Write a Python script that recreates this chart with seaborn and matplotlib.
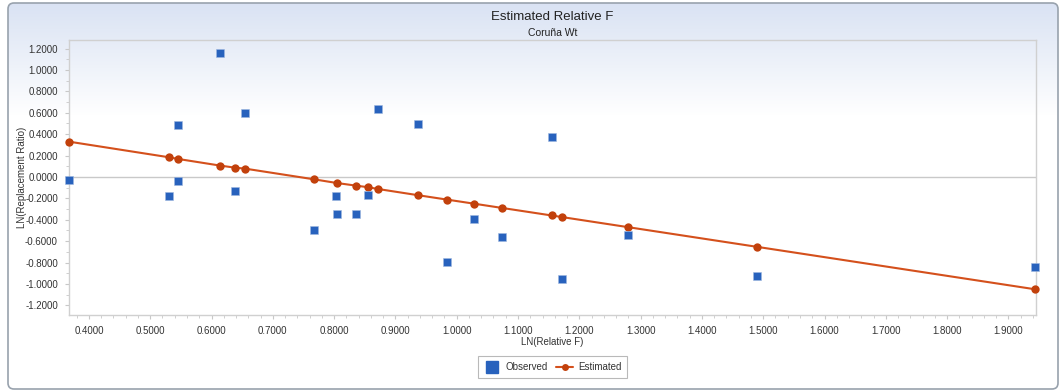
import numpy as np
import pandas as pd
import matplotlib
matplotlib.use("Agg")
import matplotlib.pyplot as plt
from matplotlib.lines import Line2D
from matplotlib.patches import FancyBboxPatch
from matplotlib.ticker import MultipleLocator, FormatStrFormatter
import seaborn as sns

# observed points (LN relative F, LN replacement ratio)
obs_x = [0.3675, 0.5307, 0.5458, 0.5458, 0.6144, 0.6383, 0.6546, 0.7672, 0.8031, 0.8047, 0.8357,
         0.8558, 0.8711, 0.9364, 0.9847, 1.0287, 1.0734, 1.1550, 1.1720, 1.2795, 1.4899, 1.9440]
obs_y = [-0.031, -0.175, 0.486, -0.037, 1.162, -0.128, 0.595, -0.495, -0.178, -0.349, -0.343,
         -0.165, 0.633, 0.492, -0.791, -0.393, -0.561, 0.377, -0.950, -0.545, -0.925, -0.844]
# estimated line points
est_x = [0.3675, 0.5307, 0.5458, 0.6144, 0.6383, 0.6546, 0.7672, 0.8039, 0.8357, 0.8558,
         0.8711, 0.9364, 0.9847, 1.0287, 1.0734, 1.1550, 1.1720, 1.2795, 1.4899, 1.9440]
est_y = [0.330, 0.184, 0.168, 0.106, 0.087, 0.078, -0.022, -0.056, -0.081, -0.096,
         -0.112, -0.170, -0.212, -0.250, -0.289, -0.360, -0.375, -0.469, -0.653, -1.050]

obs_df = pd.DataFrame({'x': obs_x, 'y': obs_y})
est_df = pd.DataFrame({'x': est_x, 'y': est_y})

sns.set_style("white")
plt.rcParams['font.family'] = ['Liberation Sans', 'DejaVu Sans']

W, H = 1062, 391
fig = plt.figure(figsize=(W / 100, H / 100), dpi=100)
fig.patch.set_facecolor('white')

# background panel with blue-to-white gradient
bg = fig.add_axes([0, 0, 1, 1], zorder=-5)
bg.set_xlim(0, W)
bg.set_ylim(H, 0)
bg.axis('off')
rows = np.arange(H)
t = np.clip((rows - 5) / 110.0, 0, 1)[:, None]
top = np.array([0.855, 0.890, 0.955])
grad = top * (1 - t) + np.array([1.0, 1.0, 1.0]) * t
img = np.repeat(grad[:, None, :], 2, axis=1)
panel = FancyBboxPatch((8, 3), W - 12, H - 5, boxstyle="round,pad=0,rounding_size=6",
                       facecolor='none', edgecolor='#98a2ad', linewidth=1.2, zorder=3)
bg.add_patch(panel)
im = bg.imshow(img, extent=(0, W, H, 0), aspect='auto', zorder=1)
im.set_clip_path(panel)

ax = fig.add_axes([69 / W, 1 - 315 / H, (1036 - 69) / W, (315 - 40) / H])
ax.set_facecolor('none')

ax.axhline(0, color='#c9c9c9', linewidth=1.0, zorder=1)

sns.lineplot(data=est_df, x='x', y='y', estimator=None, sort=False, color='#d4501c',
             linewidth=1.5, marker='o', markersize=6, markeredgewidth=0,
             markerfacecolor='#c2410c', ax=ax, zorder=3, clip_on=False)
sns.scatterplot(data=obs_df, x='x', y='y', marker='s', s=38, color='#2862bd',
                linewidth=0.4, edgecolor='#9fb8e0', ax=ax, zorder=4, clip_on=False)

ax.set_xlim(0.3675, 1.945)
ax.set_ylim(-1.29, 1.28)
ax.xaxis.set_major_locator(MultipleLocator(0.1))
ax.xaxis.set_minor_locator(MultipleLocator(0.02))
ax.yaxis.set_major_locator(MultipleLocator(0.2))
ax.yaxis.set_minor_locator(MultipleLocator(0.1))
ax.xaxis.set_major_formatter(FormatStrFormatter('%.4f'))
ax.yaxis.set_major_formatter(FormatStrFormatter('%.4f'))
ax.set_xticks([v / 10 for v in range(4, 20)])
ax.set_yticks([v / 10 for v in range(-12, 13, 2)])
ax.tick_params(axis='both', which='both', direction='out', color='#c8c8c8',
               labelsize=7, labelcolor='#333333', bottom=True, left=True)
ax.tick_params(axis='both', which='major', length=3, width=0.8, pad=5)
ax.tick_params(axis='both', which='minor', length=2, width=0.6)
for s in ax.spines.values():
    s.set_color('#d0d0d0')
    s.set_linewidth(1.0)

ax.set_xlabel('LN(Relative F)', fontsize=7, color='#333333')
ax.set_ylabel('LN(Replacement Ratio)', fontsize=7, color='#333333')
ax.xaxis.label.set_va('center')
ax.xaxis.set_label_coords(0.5, -0.098)
ax.yaxis.label.set_va('center')
ax.yaxis.set_label_coords(-0.049, 0.5)

fig.text(552.5 / W, 1 - 17 / H, 'Estimated Relative F', ha='center', va='center',
         fontsize=9.5, color='#222222')
fig.text(552.5 / W, 1 - 33 / H, 'Coruña Wt', ha='center', va='center',
         fontsize=7.5, color='#222222')

handles = [Line2D([], [], linestyle='none', marker='s', markersize=8.5, color='#2862bd'),
           Line2D([], [], color='#d4501c', linewidth=1.5, marker='o', markersize=5,
                  markerfacecolor='#c2410c', markeredgewidth=0)]
leg = fig.legend(handles, ['Observed', 'Estimated'], loc='center',
                 bbox_to_anchor=(552.5 / W, 1 - 367 / H), ncol=2, fontsize=7,
                 frameon=True, fancybox=False, handlelength=1.8, handletextpad=0.5,
                 columnspacing=0.8, borderpad=0.6)
leg.get_frame().set_edgecolor('#a8a8a8')
leg.get_frame().set_linewidth(0.8)
for txt in leg.get_texts():
    txt.set_color('#333333')

fig.savefig('out.png', dpi=100)
